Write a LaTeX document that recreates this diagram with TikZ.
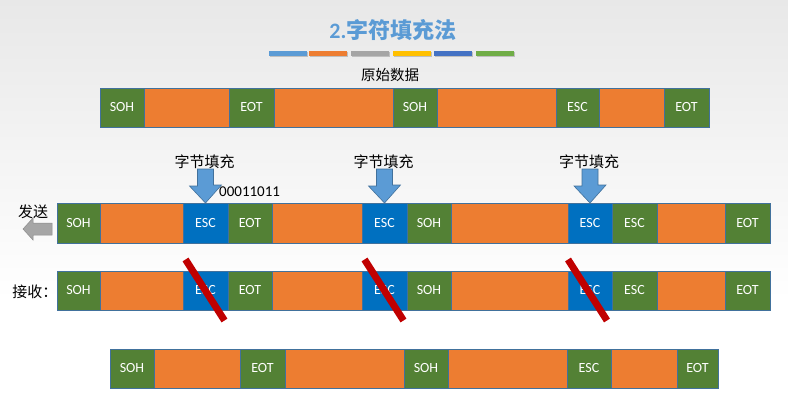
\documentclass[tikz,border=0pt]{standalone}
\usepackage{fontspec}
\setmainfont{Carlito}
\newfontfamily\cjk{Noto Sans CJK SC}
\usetikzlibrary{calc}
\definecolor{segG}{HTML}{538135}
\definecolor{segO}{HTML}{ED7D31}
\definecolor{segB}{HTML}{0070C0}
\definecolor{segEdge}{HTML}{41719C}
\definecolor{titleBlue}{HTML}{5B9BD5}
\definecolor{barA}{HTML}{5B9BD5}
\definecolor{barB}{HTML}{ED7D31}
\definecolor{barC}{HTML}{A5A5A5}
\definecolor{barD}{HTML}{FFC000}
\definecolor{barE}{HTML}{4472C4}
\definecolor{barF}{HTML}{70AD47}
\definecolor{slashRed}{HTML}{C00000}
\begin{document}
\begin{tikzpicture}[x=1pt,y=-1pt,
  seg/.style={draw=segEdge, line width=0.8pt, inner sep=0pt, outer sep=0pt,
    anchor=north west, text=white, font=\fontsize{14}{14}\selectfont},
  cjklabel/.style={inner sep=0pt, font=\cjk\fontsize{15}{15}\selectfont},
  downarrow/.style={fill=titleBlue, draw=segEdge, line width=0.6pt},
  slash/.style={draw=slashRed, line width=7pt}]
% page and background
\useasboundingbox (0,0) rectangle (788,412);
\shade[top color=black!9, bottom color=white] (0,0) rectangle (788,300);
\fill[white] (0,300) rectangle (788,412);

% title and colour strip
\node[inner sep=0pt, text=titleBlue, font=\fontsize{22}{22}\selectfont\bfseries] (title) at (393,30)
  {2.{\cjk\bfseries 字符填充法}};
\foreach \x/\c [count=\i] in {269/barA, 309/barB, 351/barC, 393/barD, 434/barE, 476/barF}{
  \fill[black!25] (\x+1,52) rectangle (\x+39,57);
  \fill[\c] (\x,51) rectangle (\x+38,56);
}

% original data
\node[cjklabel, font=\cjk\fontsize{14.5}{14.5}\selectfont] (orig) at (390,75) {原始数据};
\foreach \x/\w/\c/\t [count=\i] in {100/44/G/SOH, 144/85/O/{}, 229/45/G/EOT, 274/119/O/{},
    393/44/G/SOH, 437/119/O/{}, 556/43/G/ESC, 599/65/O/{}, 664/45/G/EOT}{
  \node[seg, fill=seg\c, minimum width=\w, minimum height=39] (a\i) at (\x,88) {\t};
}

% sent frame with stuffed bytes
\foreach \x/\w/\c/\t [count=\i] in {57/43/G/SOH, 100/83/O/{}, 183/45/B/ESC, 228/44/G/EOT,
    272/90/O/{}, 362/45/B/ESC, 407/44/G/SOH, 451/117/O/{}, 568/44/B/ESC, 612/45/G/ESC,
    657/68/O/{}, 725/45/G/EOT}{
  \node[seg, fill=seg\c, minimum width=\w, minimum height=40] (b\i) at (\x,203) {\t};
}

% received frame
\foreach \x/\w/\c/\t [count=\i] in {57/43/G/SOH, 100/83/O/{}, 183/45/B/ESC, 228/44/G/EOT,
    272/90/O/{}, 362/45/B/ESC, 407/44/G/SOH, 451/117/O/{}, 568/44/B/ESC, 612/45/G/ESC,
    657/68/O/{}, 725/45/G/EOT}{
  \node[seg, fill=seg\c, minimum width=\w, minimum height=39] (c\i) at (\x,271) {\t};
}

% restored data
\foreach \x/\w/\c/\t [count=\i] in {110/44/G/SOH, 154/86/O/{}, 240/45/G/EOT, 285/119/O/{},
    404/44/G/SOH, 448/119/O/{}, 567/44/G/ESC, 611/66/O/{}, 677/41/G/EOT}{
  \node[seg, fill=seg\c, minimum width=\w, minimum height=39] (d\i) at (\x,349) {\t};
}

% stuffing arrows and labels
\foreach \n in {3,6,9}{
  \filldraw[downarrow] ($(b\n.north)+(-8,-34)$) -- ++(16,0) -- ++(0,16) -- ++(8,0)
    -- (b\n.north) -- ++(-16,-17) -- ++(8,0) -- cycle;
  \node[cjklabel] (f\n) at ($(b\n.north)+(-1,-41)$) {字节填充};
}
\node[inner sep=0pt, anchor=west, font=\fontsize{15}{15}\selectfont] (code) at (219,192) {00011011};

% send direction
\node[cjklabel] (send) at (33,212) {发送};
\filldraw[fill=black!35, draw=black!45, line width=0.5pt]
  (52,223) -- (33,223) -- (33,218) -- (23,229) -- (33,240) -- (33,235) -- (52,235) -- cycle;
\node[cjklabel] (recv) at (35,292) {接收：};

% removed escape bytes
\foreach \n/\dx in {3/0,6/0,9/-2}{
  \draw[slash] ($(c\n.center)+(-20+\dx,-31)$) -- ($(c\n.center)+(19+\dx,30)$);
}
\end{tikzpicture}
\end{document}
